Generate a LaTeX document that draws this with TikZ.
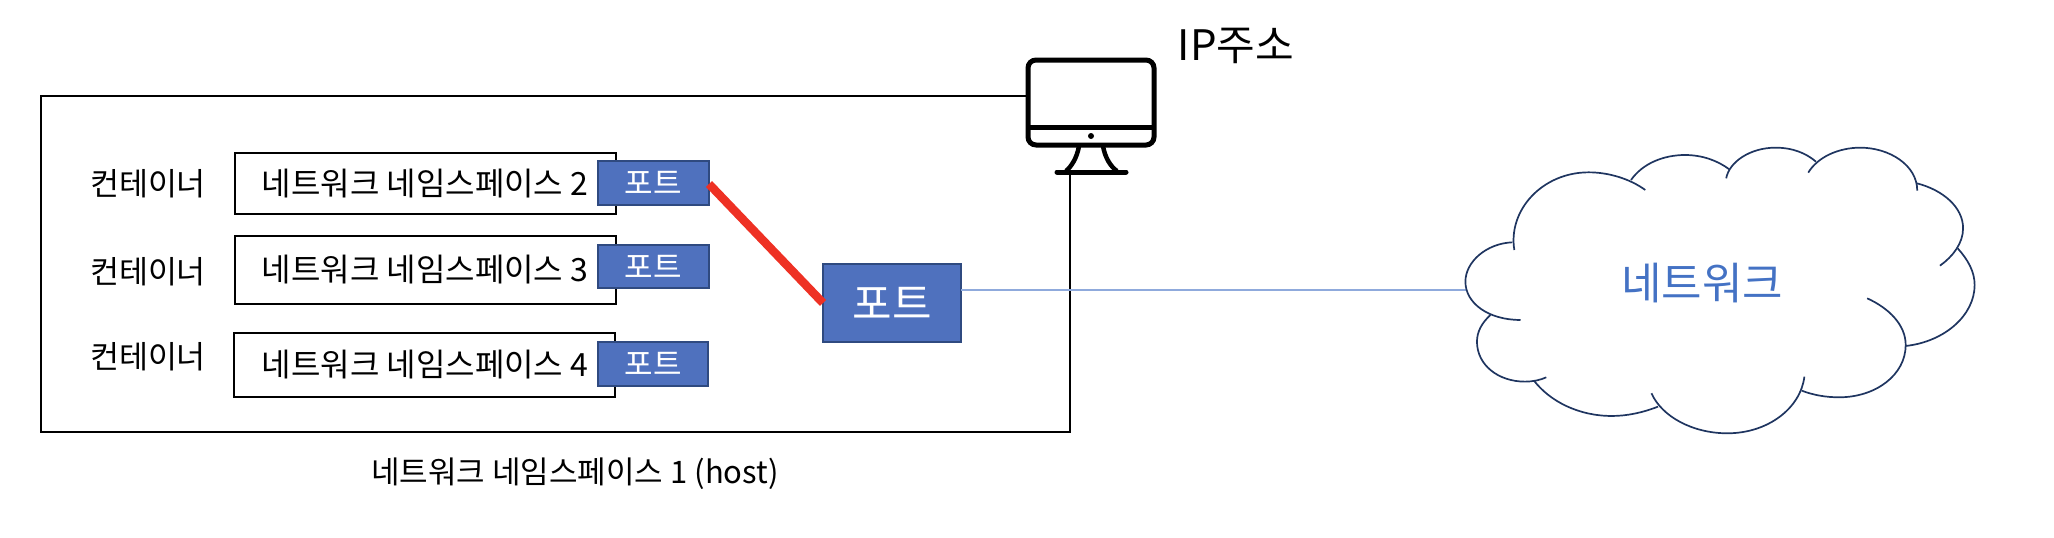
\documentclass[tikz,border=0pt]{standalone}
\usepackage{fontspec}
\setmainfont{Noto Sans CJK KR}
\definecolor{portfill}{HTML}{4F71BE}
\definecolor{portedge}{HTML}{2F4A80}
\definecolor{linkred}{HTML}{EE3124}
\definecolor{netblue}{HTML}{4472C4}
\definecolor{thinblue}{HTML}{8FAADC}
\definecolor{cloudedge}{HTML}{1F3560}
\newcommand{\fs}[1]{\fontsize{#1}{#1}\selectfont}
\tikzset{
  x=1pt,y=-1pt,
  box/.style={draw=black,line width=2pt,fill=white,inner sep=0pt,outer sep=0pt},
  portbox/.style={draw=portedge,line width=2pt,fill=portfill,inner sep=0pt,outer sep=0pt,text=white},
  label/.style={inner sep=0pt,outer sep=0pt,text=black},
  lobe/.style={draw=cloudedge,line width=1.7pt},
  mon/.style={draw=black,line width=5pt,line cap=round,line join=round}
}
\begin{document}
\begin{tikzpicture}
\useasboundingbox (0,0) rectangle (2054,538);
% monitor
\node[draw=black,line width=5pt,rounded corners=8pt,minimum width=126pt,minimum height=85pt,inner sep=0pt,outer sep=0pt] (screen) at (1091,102.5) {};
\coordinate (hostTop) at (1028,96);
\coordinate (hostBase) at (1070,172);
% host outline
\draw[black,line width=2pt] (hostTop) -- (41,96) -- (41,432) -- (1070,432) -- (hostBase);
\draw[mon,line cap=butt] (screen.west |- 0,127) -- (screen.east |- 0,127);
\fill[black] (1091,136) circle (3pt);
\draw[mon,line width=4.5pt,line cap=butt] (1079,146) .. controls (1077,158) and (1071,167) .. (1066,171);
\draw[mon,line width=4.5pt,line cap=butt] (1103,146) .. controls (1105,158) and (1111,167) .. (1117,171);
\draw[mon] (1057,172) -- (1126,172);
\node[label,font=\fs{42}] (ip) at (1236,46) {IP주소};
% namespaces
\node[box,minimum width=381pt,minimum height=61pt] (ns2) at (425.5,183.5) {};
\node[box,minimum width=381pt,minimum height=68pt] (ns3) at (425.5,270) {};
\node[box,minimum width=381pt,minimum height=64pt] (ns4) at (424.5,365) {};
\node[label,font=\fs{32}] (t2) at (425,184) {네트워크 네임스페이스 2};
\node[label,font=\fs{32}] (t3) at (425,270) {네트워크 네임스페이스 3};
\node[label,font=\fs{32}] (t4) at (425,365) {네트워크 네임스페이스 4};
\node[label,font=\fs{31.5}] (c2) at (148,184) {컨테이너};
\node[label,font=\fs{31.5}] (c3) at (148,272) {컨테이너};
\node[label,font=\fs{31.5}] (c4) at (148,357) {컨테이너};
% ports
\node[portbox,minimum width=111pt,minimum height=44pt,font=\fs{31}] (p2) at (653.5,183) {포트};
\node[portbox,minimum width=111pt,minimum height=43pt,font=\fs{31}] (p3) at (653.5,266.5) {포트};
\node[portbox,minimum width=110pt,minimum height=44pt,font=\fs{31}] (p4) at (653,364) {포트};
\node[portbox,minimum width=138pt,minimum height=78pt,font=\fs{43}] (hp) at (892,303) {포트};
% connectors
\coordinate (cloudL) at (1467,290);
\coordinate (hpE) at (961,290);
\draw[thinblue,line width=1.5pt] (hpE) -- (cloudL);
\draw[linkred,line width=8.5pt] (p2.east |- 0,184) -- (hp.west);
% cloud
\begin{scope}[shift={(1450,120)},x=0.3852pt,y=-0.3333pt]
\draw[lobe] (167,390) .. controls (150,270) and (240,157) .. (360,157) .. controls (410,157) and (465,175) .. (507,210);
\draw[lobe] (470,180) .. controls (500,130) and (555,105) .. (610,105) .. controls (655,105) and (695,122) .. (725,148);
\draw[lobe] (717,175) .. controls (725,125) and (780,83) .. (845,83) .. controls (890,83) and (925,100) .. (950,125);
\draw[lobe] (930,158) .. controls (955,110) and (1010,83) .. (1065,83) .. controls (1140,83) and (1213,135) .. (1213,212);
\draw[lobe] (1212,190) .. controls (1280,210) and (1332,262) .. (1332,325) .. controls (1332,370) and (1305,410) .. (1272,437);
\draw[lobe] (1318,385) .. controls (1345,420) and (1362,455) .. (1362,495) .. controls (1362,585) and (1285,665) .. (1183,678);
\draw[lobe] (1083,535) .. controls (1140,565) and (1183,615) .. (1183,675) .. controls (1183,765) and (1105,832) .. (1010,832) .. controls (975,832) and (942,825) .. (913,812);
\draw[lobe] (920,770) .. controls (910,865) and (825,940) .. (720,940) .. controls (630,940) and (550,890) .. (523,820);
\draw[lobe] (540,860) .. controls (500,878) and (460,888) .. (420,888) .. controls (335,888) and (260,845) .. (218,782);
\draw[lobe] (250,772) .. controls (235,780) and (215,785) .. (195,785) .. controls (125,785) and (70,735) .. (70,665) .. controls (70,635) and (83,608) .. (105,585);
\draw[lobe] (183,600) .. controls (100,600) and (40,550) .. (40,485) .. controls (40,425) and (95,370) .. (162,367);
\end{scope}
\node[label,text=netblue,font=\fs{44}] (net) at (1702,283) {네트워크};
\node[label,font=\fs{31}] (host) at (575,474) {네트워크 네임스페이스 1 (host)};
\end{tikzpicture}
\end{document}
